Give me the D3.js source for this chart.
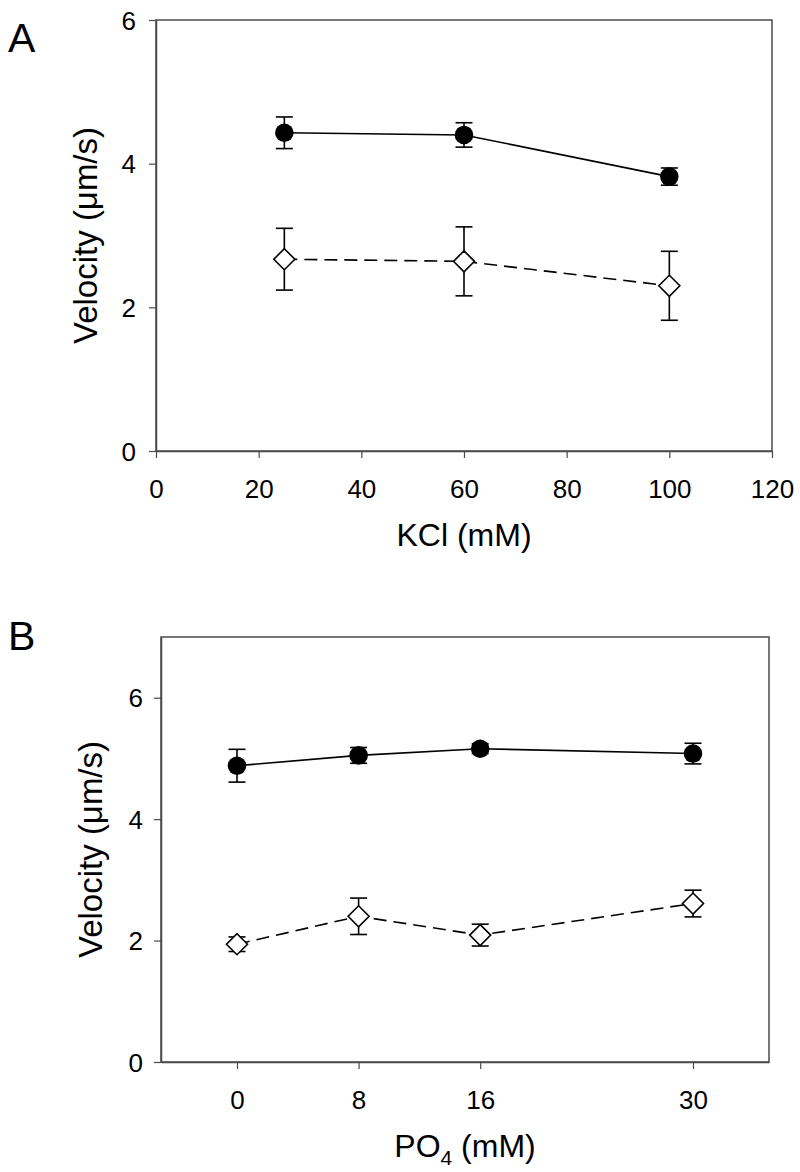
<!DOCTYPE html>
<html>
<head>
<meta charset="utf-8">
<script src="https://cdn.jsdelivr.net/npm/d3@7"></script>
<style>
  html, body { margin: 0; padding: 0; background: #fff; }
  svg { display: block; }
  text { font-family: "Liberation Sans", Arial, sans-serif; fill: #000; }
</style>
</head>
<body>
<svg id="chart" width="800" height="1172"></svg>
<script>
// ---- Data ----
const kcl = [25, 60, 100];
const kclFilled = [4.43, 4.40, 3.82];
const kclFilledErr = [0.22, 0.17, 0.12];
const kclOpen = [2.67, 2.64, 2.30];
const kclOpenErr = [0.43, 0.48, 0.48];
const kclTicks = [0, 20, 40, 60, 80, 100, 120];
const yTicksA = [0, 2, 4, 6];

const po4 = [0, 8, 16, 30];
const po4Filled = [4.88, 5.05, 5.16, 5.08];
const po4FilledErr = [0.27, 0.13, 0.08, 0.17];
const po4Open = [1.94, 2.40, 2.09, 2.61];
const po4OpenErr = [0.12, 0.30, 0.18, 0.22];
const po4Ticks = [0, 8, 16, 30];
const yTicksB = [0, 2, 4, 6];

const svg = d3.select("#chart");
const fmt = d3.format("d");

function panel(opts) {
  const g = svg.append("g");
  const x = d3.scaleLinear().domain(opts.xDomain).range([opts.left, opts.right]);
  const y = d3.scaleLinear().domain(opts.yDomain).range([opts.bottom, opts.top]);

  // frame
  g.append("rect")
    .attr("x", opts.left).attr("y", opts.top)
    .attr("width", opts.right - opts.left).attr("height", opts.bottom - opts.top)
    .attr("fill", "none").attr("stroke", "#4a4a4a").attr("stroke-width", 1.5);

  // axes
  const xAxis = d3.axisBottom(x).tickValues(opts.xTicks).tickFormat(fmt).tickSize(7).tickSizeOuter(0);
  const yAxis = d3.axisLeft(y).tickValues(opts.yTicks).tickFormat(fmt).tickSize(7).tickSizeOuter(0).tickPadding(opts.yPad);
  const gx = g.append("g").attr("transform", `translate(0,${opts.bottom})`).call(xAxis);
  const gy = g.append("g").attr("transform", `translate(${opts.left},0)`).call(yAxis);
  [gx, gy].forEach(a => {
    a.attr("font-size", null).attr("font-family", null);
    a.select(".domain").attr("stroke", "#4a4a4a").attr("stroke-width", 1.5);
    a.selectAll(".tick line").attr("stroke", "#4a4a4a").attr("stroke-width", 1.2);
    a.selectAll(".tick text")
      .style("font-family", '"Liberation Sans", Arial, sans-serif')
      .style("font-size", "26px").attr("fill", "#000");
  });
  gx.selectAll(".tick text").attr("dy", null).attr("y", 47);
  gy.selectAll(".tick text").attr("dy", "0.35em");

  // series
  function series(xs, vs, es, kind) {
    const pts = xs.map((d, i) => ({ x: d, v: vs[i], e: es[i] }));
    const line = d3.line().x(d => x(d.x)).y(d => y(d.v));
    g.append("path").datum(pts).attr("d", line)
      .attr("fill", "none").attr("stroke", "#000").attr("stroke-width", 1.6)
      .attr("stroke-dasharray", kind === "open" ? "13,7" : null);
    const eb = g.append("g").selectAll("g").data(pts).join("g")
      .attr("stroke", "#000").attr("stroke-width", 1.6);
    eb.append("line").attr("x1", d => x(d.x)).attr("x2", d => x(d.x))
      .attr("y1", d => y(d.v - d.e)).attr("y2", d => y(d.v + d.e));
    eb.append("line").attr("x1", d => x(d.x) - 8.5).attr("x2", d => x(d.x) + 8.5)
      .attr("y1", d => y(d.v + d.e)).attr("y2", d => y(d.v + d.e));
    eb.append("line").attr("x1", d => x(d.x) - 8.5).attr("x2", d => x(d.x) + 8.5)
      .attr("y1", d => y(d.v - d.e)).attr("y2", d => y(d.v - d.e));
    if (kind === "open") {
      g.append("g").selectAll("path").data(pts).join("path")
        .attr("d", d => {
          const cx = x(d.x), cy = y(d.v), r = 10.5;
          return `M${cx},${cy - r}L${cx + r},${cy}L${cx},${cy + r}L${cx - r},${cy}Z`;
        })
        .attr("fill", "#fff").attr("stroke", "#000").attr("stroke-width", 1.6);
    } else {
      g.append("g").selectAll("circle").data(pts).join("circle")
        .attr("cx", d => x(d.x)).attr("cy", d => y(d.v)).attr("r", 9.3)
        .attr("fill", "#000");
    }
  }
  opts.series.forEach(s => series(s[0], s[1], s[2], s[3]));

  // y label
  const cy = (opts.top + opts.bottom) / 2;
  svg.append("text")
    .attr("transform", `translate(${opts.yLabelX},${cy}) rotate(-90)`)
    .attr("text-anchor", "middle").style("font-size", "33px")
    .text("Velocity (\u03bcm/s)");

  // x label
  const xl = svg.append("text")
    .attr("x", (opts.left + opts.right) / 2).attr("y", opts.xLabelY)
    .attr("text-anchor", "middle").style("font-size", "32px");
  opts.xLabel(xl);

  // panel letter
  svg.append("text").attr("x", 8).attr("y", opts.letterY)
    .style("font-size", "41px").text(opts.letter);
}

panel({
  left: 156, right: 772, top: 20, bottom: 451,
  xDomain: [0, 120], yDomain: [0, 6],
  xTicks: kclTicks, yTicks: yTicksA, yPad: 13,
  series: [[kcl, kclOpen, kclOpenErr, "open"], [kcl, kclFilled, kclFilledErr, "filled"]],
  yLabelX: 97, xLabelY: 546,
  xLabel: t => t.text("KCl (mM)"),
  letter: "A", letterY: 52
});

panel({
  left: 161, right: 769, top: 637, bottom: 1062,
  xDomain: [-5, 35], yDomain: [0, 7],
  xTicks: po4Ticks, yTicks: yTicksB, yPad: 11,
  series: [[po4, po4Open, po4OpenErr, "open"], [po4, po4Filled, po4FilledErr, "filled"]],
  yLabelX: 102, xLabelY: 1157,
  xLabel: t => {
    t.append("tspan").text("PO");
    t.append("tspan").text("4").style("font-size", "21px").attr("dy", 8);
    t.append("tspan").text(" (mM)").attr("dy", -8);
  },
  letter: "B", letterY: 650
});
</script>
</body>
</html>
